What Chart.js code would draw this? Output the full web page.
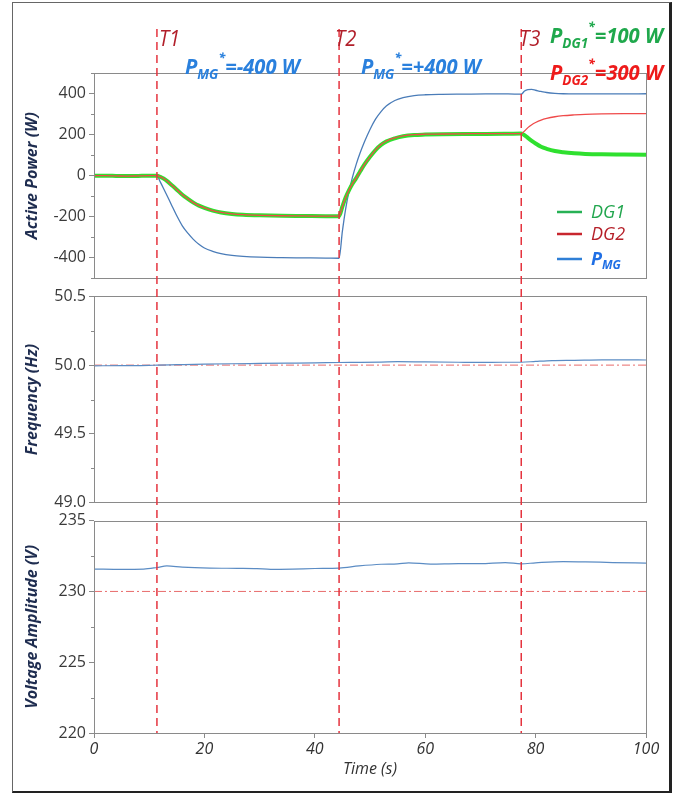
<!DOCTYPE html>
<html>
<head>
<meta charset="utf-8">
<script src="https://cdn.jsdelivr.net/npm/chart.js@4.4.1/dist/chart.umd.min.js"></script>
<style>
  html, body { margin:0; padding:0; background:#fff; }
  #wrap { position:relative; width:682px; height:796px; }
  #myChart { display:block; }
  #frame { position:absolute; left:12px; top:2px; width:656px; height:788px;
           border:1px solid #666; border-right:3px solid #222; border-bottom:2px solid #222;
           pointer-events:none; }
</style>
</head>
<body>
<div id="wrap">
  <canvas id="myChart" width="682" height="796"></canvas>
  <div id="frame"></div>
</div>
<script>
// time (s) of the set-point changes T1, T2, T3
var events = [11.4, 44.4, 77.4];

// active power (W)
var tPower = [0, 2, 4, 6, 8, 10, 11.4, 12.0, 12.6, 13.2, 14.0, 15.0, 16.0, 17.0, 18.0, 19.0, 20.0, 21.5, 23.0, 25.0,
              27.0, 30.0, 34.0, 38.0, 42.0, 44.4, 45.0, 45.6, 46.2, 46.8, 47.5, 48.2, 49.0, 50.0, 51.0, 52.0, 53.0, 54.5,
              56.0, 58.0, 60.0, 63.0, 67.0, 71.0, 75.0, 77.4, 78.0, 78.6, 79.3, 80.0, 81.0, 82.0, 83.5, 85.0, 87.0,
              89.0, 92.0, 96.0, 100];
var dg1Power = [0, 0, -1, -2, -1, 0, 0, -6, -14, -25, -44, -68, -93, -113, -131, -146, -157, -170, -179, -186,
                -190, -193, -195, -196, -197, -197, -150, -105, -70, -40, -12, 20, 55, 92, 125, 150, 167, 182,
                192, 198, 200, 202, 203, 203, 204, 205, 197, 184, 170, 157, 141, 131, 120, 114, 109,
                106, 104, 103, 102];
var dg2Power = [0, 0, -1, -2, -1, 0, 0, -6, -14, -25, -44, -68, -93, -113, -131, -146, -157, -170, -179, -186,
                -190, -193, -195, -196, -197, -197, -150, -105, -70, -40, -12, 20, 55, 92, 126, 152, 169, 184,
                194, 200, 202, 203, 204, 205, 205, 205, 218, 234, 248, 259, 271, 279, 287, 292, 296,
                299, 301, 302, 302];
var pmgPower = [0, 1, 0, -1, 1, 0, 0, -30, -62, -95, -140, -195, -244, -280, -310, -334, -352, -368, -379, -388,
                -393, -397, -399, -400, -401, -402, -270, -160, -75, -10, 55, 110, 165, 225, 275, 312, 340, 366,
                380, 390, 394, 396, 397, 398, 398, 397, 412, 419, 420, 416, 410, 405, 401, 399, 398,
                398, 398, 398, 399];

// frequency (Hz)
var tFreq = [0, 5, 10, 11.4, 15, 20, 25, 30, 35, 40, 44.4, 48, 52, 55, 60, 66, 70, 74, 77.4, 80, 83, 87, 92, 96, 100];
var freqValues = [49.995, 49.996, 49.998, 50.0, 50.003, 50.007, 50.010, 50.012, 50.014, 50.016, 50.019, 50.020,
                  50.022, 50.025, 50.023, 50.021, 50.020, 50.021, 50.021, 50.027, 50.033, 50.035, 50.038, 50.038, 50.037];
var freqRef = 50.0;

// voltage amplitude (V)
var tVolt = [0, 5, 9, 11.4, 13.2, 16, 21, 26, 29.5, 32, 36, 40, 44.4, 48, 52, 55, 57, 61, 66, 70, 74.5, 77.4, 80, 85, 89, 94, 100];
var voltValues = [231.58, 231.56, 231.58, 231.69, 231.80, 231.72, 231.65, 231.63, 231.61, 231.56, 231.58, 231.62,
                  231.65, 231.80, 231.92, 231.95, 232.02, 231.93, 231.97, 231.96, 232.04, 231.95, 232.02, 232.11,
                  232.09, 232.04, 232.00];
var voltRef = 230;

function pts(xs, ys) {
  return xs.map(function (t, i) { return {x: t, y: ys[i]}; });
}

var FONT = "'Open Sans', 'DejaVu Sans', sans-serif";

// draws text with sub/superscripts: parts = [text, size, dy]
function drawRich(ctx, x, y, parts, color, squeeze, weight) {
  ctx.save();
  ctx.translate(x, y);
  ctx.scale(squeeze, 1);
  ctx.fillStyle = color;
  ctx.textBaseline = 'alphabetic';
  ctx.textAlign = 'left';
  var cx = 0;
  parts.forEach(function (p) {
    ctx.font = 'italic ' + weight + ' ' + p[1] + 'px ' + FONT;
    ctx.fillText(p[0], cx, p[2]);
    cx += ctx.measureText(p[0]).width;
  });
  ctx.restore();
}

var overlay = {
  id: 'overlay',
  afterDraw: function (chart) {
    var ctx = chart.ctx;
    var xs = chart.scales.x;
    var area = chart.chartArea;
    ctx.save();

    // panel frames + short minor ticks
    ctx.strokeStyle = '#8a8a8a';
    ctx.lineWidth = 1;
    ['yP', 'yF', 'yV'].forEach(function (id) {
      var s = chart.scales[id];
      ctx.strokeRect(Math.round(xs.left) + 0.5, Math.round(s.top) + 0.5,
                     Math.round(xs.right - xs.left), Math.round(s.bottom - s.top));
      s.ticks.forEach(function (tk) {
        if (tk.label === '') {
          var py = Math.round(s.getPixelForValue(tk.value)) + 0.5;
          ctx.beginPath();
          ctx.moveTo(xs.left - 3, py);
          ctx.lineTo(xs.left, py);
          ctx.stroke();
        }
      });
    });

    // event lines
    ctx.setLineDash([8, 5]);
    ctx.strokeStyle = '#e5343f';
    ctx.lineWidth = 1.5;
    events.forEach(function (t) {
      var px = xs.getPixelForValue(t);
      ctx.beginPath();
      ctx.moveTo(px, 29);
      ctx.lineTo(px, area.bottom);
      ctx.stroke();
    });
    ctx.setLineDash([]);
    ctx.restore();

    // T labels
    var tNames = ['T1', 'T2', 'T3'];
    var tShift = [2, -4, -2];
    events.forEach(function (t, i) {
      drawRich(ctx, xs.getPixelForValue(t) + tShift[i], 46, [[tNames[i], 22, 0]], '#b2202b', 0.92, 'normal');
    });

    // set-point annotations
    drawRich(ctx, 185, 74, [['P', 21, 0], ['MG', 14, 5], ['*', 13, -12], ['=-400 W', 21, 0]], '#2a80dd', 0.96, 'bold');
    drawRich(ctx, 361, 74, [['P', 21, 0], ['MG', 14, 5], ['*', 13, -12], ['=+400 W', 21, 0]], '#2a80dd', 0.96, 'bold');
    drawRich(ctx, 550, 43, [['P', 21, 0], ['DG1', 14, 5], ['*', 13, -12], ['=100 W', 21, 0]], '#1fa84c', 0.96, 'bold');
    drawRich(ctx, 550, 80, [['P', 21, 0], ['DG2', 14, 5], ['*', 13, -12], ['=300 W', 21, 0]], '#ee1a1a', 0.96, 'bold');

    // legend
    var leg = [
      {c: '#27b155', tc: '#22a64e', parts: [['DG1', 18, 0]], w: 'normal'},
      {c: '#c8262e', tc: '#b52029', parts: [['DG2', 18, 0]], w: 'normal'},
      {c: '#2f7fd6', tc: '#1f6fe5', parts: [['P', 18, 0], ['MG', 12, 4]], w: 'bold'}
    ];
    var ly = [212, 234, 259];
    ctx.save();
    ctx.lineWidth = 2.5;
    leg.forEach(function (l, i) {
      ctx.strokeStyle = l.c;
      ctx.beginPath();
      ctx.moveTo(557, ly[i]);
      ctx.lineTo(582, ly[i]);
      ctx.stroke();
      drawRich(ctx, 591, ly[i] + 6, l.parts, l.tc, 1, l.w);
    });
    ctx.restore();
  }
};

function fixWidth(scale) { scale.width = 78; }

var tickColor = function (c) {
  return (c.tick && c.tick.label === '') ? 'rgba(0,0,0,0)' : '#8a8a8a';
};

function yAxis(weight, stackWeight, min, max, step, cb, title) {
  return {
    type: 'linear', position: 'left', stack: 'v', stackWeight: stackWeight, weight: weight,
    min: min, max: max,
    border: {display: false},
    grid: {drawOnChartArea: false, drawTicks: true, tickLength: 5, tickColor: tickColor},
    ticks: {stepSize: step, autoSkip: false, padding: 3, color: '#3a3a3a',
            font: {family: FONT, size: 16}, callback: cb},
    title: {display: true, text: title, color: '#1f2d50', padding: {top: 7, bottom: 0},
            font: {family: FONT, size: 16, style: 'italic', weight: 'bold'}},
    afterFit: fixWidth
  };
}

function spacer(weight) {
  return {type: 'linear', position: 'left', stack: 'v', stackWeight: 18, weight: weight,
          display: false, min: 0, max: 1, afterFit: fixWidth};
}

new Chart('myChart', {
  type: 'line',
  data: {
    datasets: [
      {label: 'DG1', data: pts(tPower, dg1Power), yAxisID: 'yP', borderColor: '#2fe02f', borderWidth: 4, order: 2},
      {label: 'DG2', data: pts(tPower, dg2Power), yAxisID: 'yP', borderColor: '#ef4a4a', borderWidth: 1.3, order: 1},
      {label: 'PMG', data: pts(tPower, pmgPower), yAxisID: 'yP', borderColor: '#4a7cb8', borderWidth: 1.3, order: 3},
      {label: 'f', data: pts(tFreq, freqValues), yAxisID: 'yF', borderColor: '#5b8cc4', borderWidth: 1.2, order: 4},
      {label: 'fref', data: [{x: 0, y: freqRef}, {x: 100, y: freqRef}], yAxisID: 'yF',
       borderColor: '#e86a6a', borderWidth: 1, borderDash: [8, 3, 2, 3], order: 5},
      {label: 'v', data: pts(tVolt, voltValues), yAxisID: 'yV', borderColor: '#5b8cc4', borderWidth: 1.2, order: 4},
      {label: 'vref', data: [{x: 0, y: voltRef}, {x: 100, y: voltRef}], yAxisID: 'yV',
       borderColor: '#e86a6a', borderWidth: 1, borderDash: [8, 3, 2, 3], order: 5}
    ]
  },
  options: {
    responsive: false,
    animation: false,
    devicePixelRatio: 1,
    layout: {padding: {left: 16, right: 36, top: 73, bottom: 14}},
    elements: {point: {radius: 0}, line: {cubicInterpolationMode: 'monotone', fill: false, borderJoinStyle: 'round'}},
    plugins: {legend: {display: false}, tooltip: {enabled: false}},
    scales: {
      x: {
        type: 'linear', position: 'bottom', min: 0, max: 100,
        border: {display: false},
        grid: {drawOnChartArea: false, drawTicks: true, tickLength: 5, tickColor: '#8a8a8a'},
        ticks: {stepSize: 20, padding: 2, color: '#333',
                font: {family: FONT, size: 16, style: 'italic'}},
        title: {display: true, text: 'Time (s)', color: '#333', padding: {top: 0, bottom: 3},
                font: {family: FONT, size: 16, style: 'italic'}},
        afterFit: function (s) { s.height = 49; }
      },
      yP: yAxis(5, 206, -500, 500, 100,
                function (v) { return (v % 200 === 0 && Math.abs(v) < 500) ? String(v) : ''; }, 'Active Power (W)'),
      s1: spacer(4),
      yF: yAxis(3, 207, 49, 50.5, 0.25,
                function (v) { return Math.abs(v * 2 - Math.round(v * 2)) < 1e-6 ? v.toFixed(1) : ''; }, 'Frequency (Hz)'),
      s2: spacer(2),
      yV: yAxis(1, 213, 220, 235, 2.5,
                function (v) { return v % 5 === 0 ? String(v) : ''; }, 'Voltage Amplitude (V)')
    }
  },
  plugins: [overlay]
});
</script>
</body>
</html>
